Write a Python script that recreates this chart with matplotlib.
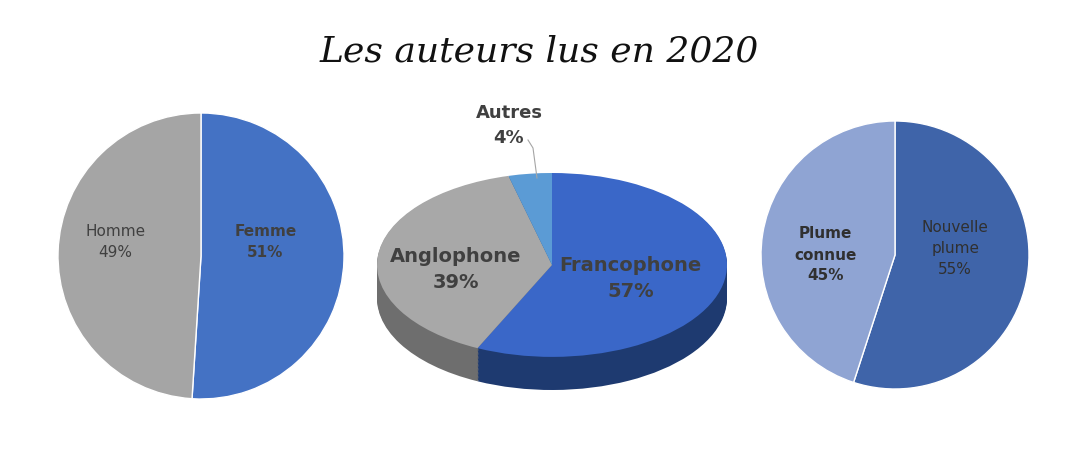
import matplotlib.pyplot as plt
import numpy as np

W, H = 1078, 453

genre_labels = ["Femme", "Homme"]
genre_values = [51, 49]
langue_labels = ["Francophone", "Anglophone", "Autres"]
langue_values = [57, 39, 4]
plume_labels = ["Nouvelle\nplume", "Plume\nconnue"]
plume_values = [55, 45]

fig = plt.figure(figsize=(W / 100, H / 100), dpi=100)


def px_axes(x0, y0, x1, y1):
    # pixel box (top-left origin) -> figure axes
    return fig.add_axes([x0 / W, 1 - y1 / H, (x1 - x0) / W, (y1 - y0) / H])


fig.text(0.5, 1 - 52 / H, "Les auteurs lus en 2020", ha="center", va="center",
         fontsize=26, family="DejaVu Serif", style="italic", color="#111111")

# gauche
ax = px_axes(56, 113, 346, 399)
ax.pie(genre_values, colors=["#4472C4", "#A5A5A5"], startangle=90, counterclock=False,
       wedgeprops=dict(edgecolor="white", linewidth=1))
ax.set_xlim(-1, 1)
ax.set_ylim(-1, 1)
ax.set_aspect("equal")
ax.text(0.45, 0.1, "Femme\n51%", ha="center", va="center", fontsize=11, fontweight="bold", color="#404040", linespacing=1.5)
ax.text(-0.6, 0.1, "Homme\n49%", ha="center", va="center", fontsize=11, color="#404040", linespacing=1.5)

# milieu, camembert 3D
ax = px_axes(377, 173, 727, 390)
top_cols = ["#3A67C8", "#A8A8A8", "#5B9BD5"]
side_cols = ["#1E3A70", "#6E6E6E", "#2F5F8F"]
depth = 0.36
for off in np.linspace(-depth, -0.01, 25):
    ax.pie(langue_values, colors=side_cols, startangle=90, counterclock=False, center=(0, off),
           frame=True)
ax.pie(langue_values, colors=top_cols, startangle=90, counterclock=False, frame=True)
ax.set_aspect("auto")
ax.set_xlim(-1, 1)
ax.set_ylim(-1 - depth, 1)
ax.axis("off")
ax.text(0.45, -0.15, "Francophone\n57%", ha="center", va="center", fontsize=14, fontweight="bold", color="#404040", linespacing=1.5)
ax.text(-0.55, -0.05, "Anglophone\n39%", ha="center", va="center", fontsize=14, fontweight="bold", color="#404040", linespacing=1.5)
fig.text(509 / W, 1 - 125 / H, "Autres\n4%", ha="center", va="center", fontsize=13, fontweight="bold", color="#404040", linespacing=1.5)
fig.add_artist(plt.Line2D([528 / W, 533 / W, 537 / W], [1 - 140 / H, 1 - 148 / H, 1 - 178 / H],
                          color="#A5A5A5", linewidth=0.8))

# droite
ax = px_axes(761, 121, 1029, 389)
ax.pie(plume_values, colors=["#3F64A9", "#8FA4D3"], startangle=90, counterclock=False,
       wedgeprops=dict(edgecolor="white", linewidth=1))
ax.set_xlim(-1, 1)
ax.set_ylim(-1, 1)
ax.set_aspect("equal")
ax.text(0.45, 0.05, "Nouvelle\nplume\n55%", ha="center", va="center", fontsize=11, color="#303030", linespacing=1.5)
ax.text(-0.52, 0.0, "Plume\nconnue\n45%", ha="center", va="center", fontsize=11, fontweight="bold", color="#303030", linespacing=1.5)

fig.savefig("out.png", dpi=100)
